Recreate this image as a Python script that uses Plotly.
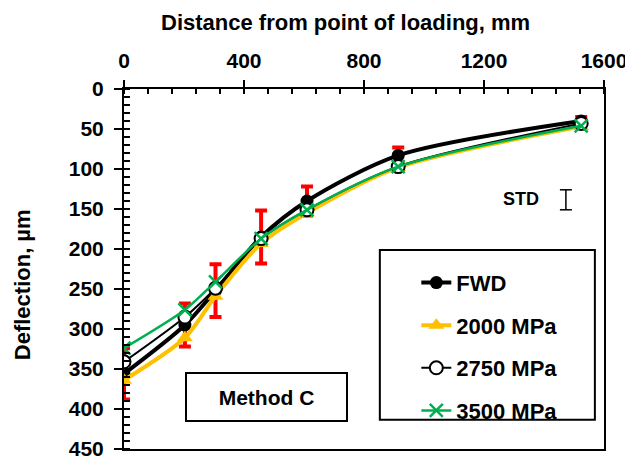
import plotly.graph_objects as go

distance = [0, 203, 305, 457, 610, 914, 1524]
fwd = [356, 295, 252, 185, 140, 83, 40]
fwd_std = [32, 27, 33, 33, 18, 10, 5]
e2000 = [364, 311, 259, 193, 155, 98, 47]
e2750 = [341, 285, 249, 187, 151, 97, 43]
e3500 = [324, 276, 241, 187, 151, 97, 46]

x_ticks = [0, 400, 800, 1200, 1600]
y_ticks = [0, 50, 100, 150, 200, 250, 300, 350, 400, 450]

FONT = "Liberation Sans, Arial, sans-serif"
def bf(size):
    return dict(family=FONT, size=size, color="black", weight="bold")

fig = go.Figure()

# error bars (drawn beneath markers)
fig.add_trace(go.Scatter(
    x=distance, y=fwd, mode="markers", showlegend=False, hoverinfo="skip",
    marker=dict(size=1, opacity=0),
    error_y=dict(type="data", array=fwd_std, visible=True, color="#ff0000", thickness=4, width=6),
))
fig.add_trace(go.Scatter(
    x=distance, y=fwd, name="FWD", mode="lines+markers", legendgroup="a",
    line=dict(color="black", width=4, shape="spline", smoothing=0.8),
    marker=dict(symbol="circle", size=13, color="black"),
))
fig.add_trace(go.Scatter(
    x=distance, y=e2000, name="2000 MPa", mode="lines+markers", legendgroup="b",
    line=dict(color="#ffc000", width=4, shape="spline", smoothing=0.8),
    marker=dict(symbol="triangle-up", size=14, color="#ffc000"),
))
fig.add_trace(go.Scatter(
    x=distance, y=e2750, name="2750 MPa", mode="lines+markers", legendgroup="c",
    line=dict(color="black", width=2, shape="spline", smoothing=0.8),
    marker=dict(symbol="circle", size=13, color="white", line=dict(color="black", width=2)),
))
fig.add_trace(go.Scatter(
    x=distance, y=e3500, name="3500 MPa", mode="lines+markers", legendgroup="d",
    line=dict(color="#00b050", width=2.5, shape="spline", smoothing=0.8),
    marker=dict(symbol="x-thin", size=13, color="#00b050", line=dict(color="#00b050", width=2.5)),
))

# STD symbol
fig.add_shape(type="line", x0=1473, x1=1473, y0=126, y1=151, line=dict(color="black", width=1.5))
fig.add_shape(type="line", x0=1453, x1=1493, y0=126, y1=126, line=dict(color="black", width=1.5))
fig.add_shape(type="line", x0=1453, x1=1493, y0=151, y1=151, line=dict(color="black", width=1.5))
fig.add_annotation(x=1390, y=138, text="STD", showarrow=False, xanchor="right", yanchor="middle",
                   font=bf(18))

# legend box
fig.add_shape(type="rect", xref="paper", yref="paper", x0=0.533, x1=0.981, y0=0.081, y1=0.553,
              line=dict(color="black", width=2), fillcolor="white", layer="above")

fig.add_annotation(x=0.297, y=0.144, xref="paper", yref="paper", text="Method C", showarrow=False,
                   xanchor="center", yanchor="middle",
                   font=bf(21), bordercolor="black", borderwidth=2, borderpad=10,
                   bgcolor="white", width=139, height=26)

# axis titles
fig.add_annotation(x=0.461, y=1.186, xref="paper", yref="paper", text="Distance from point of loading, mm",
                   showarrow=False, font=bf(22), xanchor="center", yanchor="middle")
fig.add_annotation(x=-0.2125, y=0.455, xref="paper", yref="paper", text="Deflection, µm",
                   showarrow=False, font=bf(22), textangle=-90, xanchor="center", yanchor="middle")

fig.update_layout(
    width=625, height=454,
    margin=dict(l=116, r=29, t=81, b=13, autoexpand=False),
    paper_bgcolor="white", plot_bgcolor="white",
    font=bf(21),
    showlegend=True,
    legend=dict(x=0.609, y=0.52, xanchor="left", yanchor="top",
                borderwidth=0, bgcolor="rgba(0,0,0,0)",
                font=bf(22), tracegroupgap=11),
    xaxis=dict(
        side="top", range=[0, 1600], tickvals=x_ticks, ticktext=[str(v) for v in x_ticks],
        showgrid=False, zeroline=False, showline=True, linecolor="black", linewidth=2, mirror=True,
        ticks="outside", ticklen=7, tickwidth=1.5, tickcolor="black", automargin=False,
        minor=dict(dtick=80, ticks="inside", ticklen=5, tickwidth=1.5, tickcolor="black", showgrid=False),
        tickfont=bf(21), ticklabelstandoff=4,
    ),
    yaxis=dict(
        range=[450, 0], tickvals=y_ticks, ticktext=[str(v) for v in y_ticks],
        showgrid=False, zeroline=False, showline=True, linecolor="black", linewidth=2, mirror=True,
        ticks="outside", ticklen=8, tickwidth=1.5, tickcolor="black", automargin=False,
        minor=dict(dtick=10, ticks="inside", ticklen=6, tickwidth=1.5, tickcolor="black", showgrid=False),
        tickfont=bf(21), ticklabelstandoff=6,
    ),
)

fig.write_html("out.html")
